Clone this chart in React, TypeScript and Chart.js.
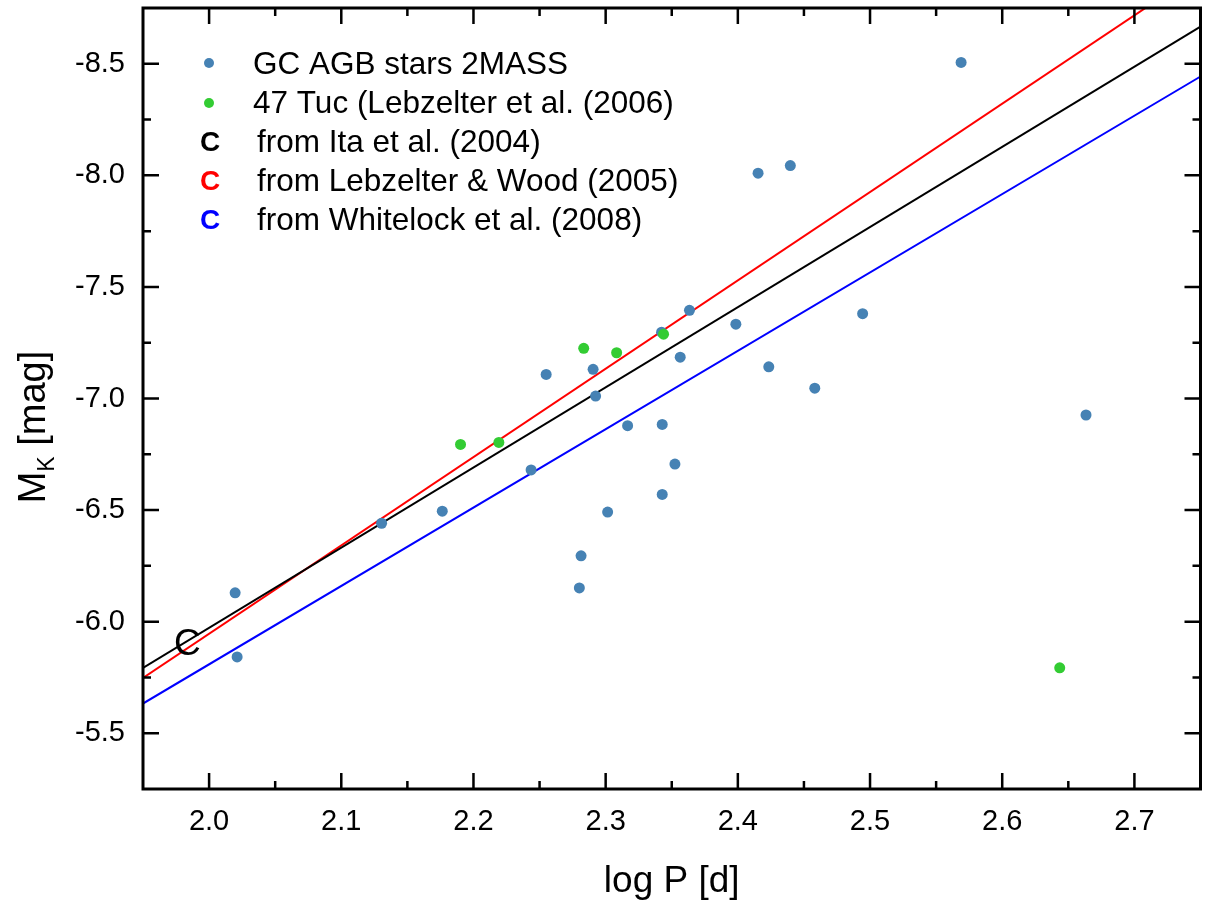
import React, { useEffect, useRef } from 'react';
import { Chart, registerables } from 'chart.js';

Chart.register(...registerables);

const FONT = '"Liberation Sans", Arial, Helvetica, sans-serif';

// GC AGB stars (2MASS)
const gcLogP = [2.0197, 2.0212, 2.1305, 2.1764, 2.2436, 2.255, 2.2905, 2.2924, 2.2814, 2.2801, 2.3015, 2.3166, 2.3428, 2.3428, 2.3524, 2.3423, 2.3564, 2.3634, 2.3985, 2.4153, 2.4397, 2.4234, 2.4582, 2.4944, 2.5689, 2.6634];
const gcMK = [-6.129, -5.842, -6.441, -6.495, -6.68, -7.108, -7.131, -7.011, -6.295, -6.151, -6.491, -6.878, -6.884, -6.57, -6.706, -7.297, -7.185, -7.395, -7.333, -8.01, -8.044, -7.142, -7.046, -7.38, -8.506, -6.926];

// 47 Tuc (Lebzelter et al. 2006)
const tucLogP = [2.1902, 2.2192, 2.2834, 2.3083, 2.3438, 2.6435];
const tucMK = [-6.794, -6.803, -7.225, -7.205, -7.288, -5.793];

// Period-luminosity relations (C sequence)
const lineLogP = [1.95, 2.75];
const itaMK = [-5.793, -8.667];
const lebzelterMK = [-5.748, -8.915];
const whitelockMK = [-5.633, -8.443];

// Axes
const xMin = 1.95;
const xMax = 2.75;
const yMin = -8.75;
const yMax = -5.25;
const xTickValues = [2.0, 2.1, 2.2, 2.3, 2.4, 2.5, 2.6, 2.7];
const yTickValues = [-8.5, -8.0, -7.5, -7.0, -6.5, -6.0, -5.5];
const xMinorStep = 0.05;
const yMinorStep = 0.25;

const xTitle = 'log P [d]';
const yTitleMain = 'M';
const yTitleSub = 'K';
const yTitleRest = ' [mag]';

const legendLabels = [
  'GC AGB stars 2MASS',
  '47 Tuc (Lebzelter et al. (2006)',
  'from Ita et al. (2004)',
  'from Lebzelter & Wood (2005)',
  'from Whitelock et al. (2008)',
];

const cMarkLogP = 1.9836;
const cMarkMK = -5.91;

const COLORS = {
  gc: '#4682B4',
  tuc: '#33CC33',
  ita: '#000000',
  lebzelter: '#FF0000',
  whitelock: '#0000FF',
};

const toPts = (xs: number[], ys: number[]) => xs.map((x, i) => ({ x, y: ys[i] }));

const decorPlugin = {
  id: 'decor',
  afterDatasetsDraw(chart: any) {
    const { ctx, chartArea } = chart;
    const xs = chart.scales.x;
    const ys = chart.scales.y;
    const { left, right, top, bottom } = chartArea;
    ctx.save();
    ctx.strokeStyle = '#000';
    ctx.lineCap = 'butt';
    const majorLen = 16;
    const minorLen = 8;
    ctx.lineWidth = 2.5;
    const nx = Math.round((xMax - xMin) / xMinorStep);
    for (let k = 1; k < nx; k++) {
      const v = xMin + k * xMinorStep;
      const isMajor = xTickValues.some((t) => Math.abs(t - v) < 1e-6);
      const len = isMajor ? majorLen : minorLen;
      const px = xs.getPixelForValue(v);
      ctx.beginPath();
      ctx.moveTo(px, bottom);
      ctx.lineTo(px, bottom - len);
      ctx.moveTo(px, top);
      ctx.lineTo(px, top + len);
      ctx.stroke();
    }
    const ny = Math.round((yMax - yMin) / yMinorStep);
    for (let k = 1; k < ny; k++) {
      const v = yMin + k * yMinorStep;
      const isMajor = yTickValues.some((t) => Math.abs(t - v) < 1e-6);
      const len = isMajor ? majorLen : minorLen;
      const py = ys.getPixelForValue(v);
      ctx.beginPath();
      ctx.moveTo(left, py);
      ctx.lineTo(left + len, py);
      ctx.moveTo(right, py);
      ctx.lineTo(right - len, py);
      ctx.stroke();
    }
    ctx.lineWidth = 3;
    ctx.strokeRect(left, top, right - left, bottom - top);
    ctx.restore();
  },
  afterDraw(chart: any) {
    const { ctx, chartArea } = chart;
    const xs = chart.scales.x;
    const ys = chart.scales.y;
    ctx.save();
    ctx.fillStyle = '#000';

    // x title
    ctx.font = `37px ${FONT}`;
    ctx.textAlign = 'center';
    ctx.textBaseline = 'alphabetic';
    ctx.fillText(xTitle, (chartArea.left + chartArea.right) / 2, 892);

    // y title with subscript
    const mainFont = `38px ${FONT}`;
    const subFont = `23px ${FONT}`;
    ctx.font = mainFont;
    const wM = ctx.measureText(yTitleMain).width;
    const wRest = ctx.measureText(yTitleRest).width;
    ctx.font = subFont;
    const wK = ctx.measureText(yTitleSub).width;
    const total = wM + wK + wRest;
    ctx.save();
    ctx.translate(45, 427 + total / 2);
    ctx.rotate(-Math.PI / 2);
    ctx.textAlign = 'left';
    ctx.font = mainFont;
    ctx.fillText(yTitleMain, 0, 0);
    ctx.font = subFont;
    ctx.fillText(yTitleSub, wM, 9);
    ctx.font = mainFont;
    ctx.fillText(yTitleRest, wM + wK, 0);
    ctx.restore();

    // "C" annotation on the relations
    ctx.font = `37px ${FONT}`;
    ctx.textAlign = 'center';
    ctx.textBaseline = 'alphabetic';
    ctx.fillText('C', xs.getPixelForValue(cMarkLogP), ys.getPixelForValue(cMarkMK) + 13);

    // legend
    const rowY = [63, 102, 141, 180, 219];
    const symX = 209;
    // dots
    ctx.fillStyle = COLORS.gc;
    ctx.beginPath();
    ctx.arc(symX, rowY[0], 5, 0, Math.PI * 2);
    ctx.fill();
    ctx.fillStyle = COLORS.tuc;
    ctx.beginPath();
    ctx.arc(symX, rowY[1] + 1, 5, 0, Math.PI * 2);
    ctx.fill();
    // C symbols
    const cColors = [COLORS.ita, COLORS.lebzelter, COLORS.whitelock];
    ctx.font = `bold 28px ${FONT}`;
    ctx.textAlign = 'center';
    cColors.forEach((c, i) => {
      ctx.fillStyle = c;
      ctx.fillText('C', symX + 1, rowY[i + 2] + 10);
    });
    // texts
    ctx.fillStyle = '#000';
    ctx.font = `31.5px ${FONT}`;
    ctx.textAlign = 'left';
    legendLabels.forEach((t, i) => {
      const x = i < 2 ? 253 : 257;
      ctx.fillText(t, x, rowY[i] + 11.3);
    });
    ctx.restore();
  },
};

export default function App() {
  const ref = useRef<HTMLCanvasElement | null>(null);
  useEffect(() => {
    if (!ref.current) return;
    const chart = new Chart(ref.current, {
      type: 'scatter',
      data: {
        datasets: [
          {
            label: '47 Tuc',
            data: toPts(tucLogP, tucMK),
            backgroundColor: COLORS.tuc,
            borderWidth: 0,
            pointRadius: 5.5,
            order: 0,
          },
          {
            label: 'GC AGB stars 2MASS',
            data: toPts(gcLogP, gcMK),
            backgroundColor: COLORS.gc,
            borderWidth: 0,
            pointRadius: 5.5,
            order: 1,
          },
          {
            label: 'Ita',
            data: toPts(lineLogP, itaMK),
            showLine: true,
            borderColor: COLORS.ita,
            borderWidth: 2,
            pointRadius: 0,
            order: 2,
          },
          {
            label: 'Lebzelter & Wood',
            data: toPts(lineLogP, lebzelterMK),
            showLine: true,
            borderColor: COLORS.lebzelter,
            borderWidth: 2,
            pointRadius: 0,
            order: 3,
          },
          {
            label: 'Whitelock',
            data: toPts(lineLogP, whitelockMK),
            showLine: true,
            borderColor: COLORS.whitelock,
            borderWidth: 2,
            pointRadius: 0,
            order: 4,
          },
        ],
      },
      options: {
        responsive: false,
        animation: false,
        devicePixelRatio: 1,
        layout: { padding: { top: 8, right: 4, left: 0, bottom: 0 } },
        plugins: {
          legend: { display: false },
          tooltip: { enabled: false },
        },
        scales: {
          x: {
            type: 'linear',
            min: xMin,
            max: xMax,
            grid: { display: false, drawTicks: false },
            border: { display: false },
            afterBuildTicks: (s: any) => {
              s.ticks = xTickValues.map((v) => ({ value: v }));
            },
            afterFit: (s: any) => {
              s.height = 114;
              s.paddingLeft = 0;
              s.paddingRight = 0;
              s.paddingTop = 0;
              s.paddingBottom = 0;
            },
            ticks: {
              color: '#000',
              font: { family: FONT, size: 29 },
              padding: 16,
              maxRotation: 0,
              autoSkip: false,
              callback: (v: any) => Number(v).toFixed(1),
            },
          },
          y: {
            type: 'linear',
            min: yMin,
            max: yMax,
            reverse: true,
            grid: { display: false, drawTicks: false },
            border: { display: false },
            afterBuildTicks: (s: any) => {
              s.ticks = yTickValues.map((v) => ({ value: v }));
            },
            afterFit: (s: any) => {
              s.width = 143;
              s.paddingLeft = 0;
              s.paddingRight = 0;
              s.paddingTop = 0;
              s.paddingBottom = 0;
            },
            ticks: {
              color: '#000',
              font: { family: FONT, size: 29 },
              padding: 18,
              autoSkip: false,
              callback: (v: any) => Number(v).toFixed(1),
            },
          },
        },
      },
      plugins: [decorPlugin],
    });
    return () => chart.destroy();
  }, []);
  return (
    <div style={{ position: 'absolute', left: 0, top: 0, width: 1206, height: 903, background: '#fff' }}>
      <canvas ref={ref} width={1206} height={903} style={{ display: 'block' }} />
    </div>
  );
}
